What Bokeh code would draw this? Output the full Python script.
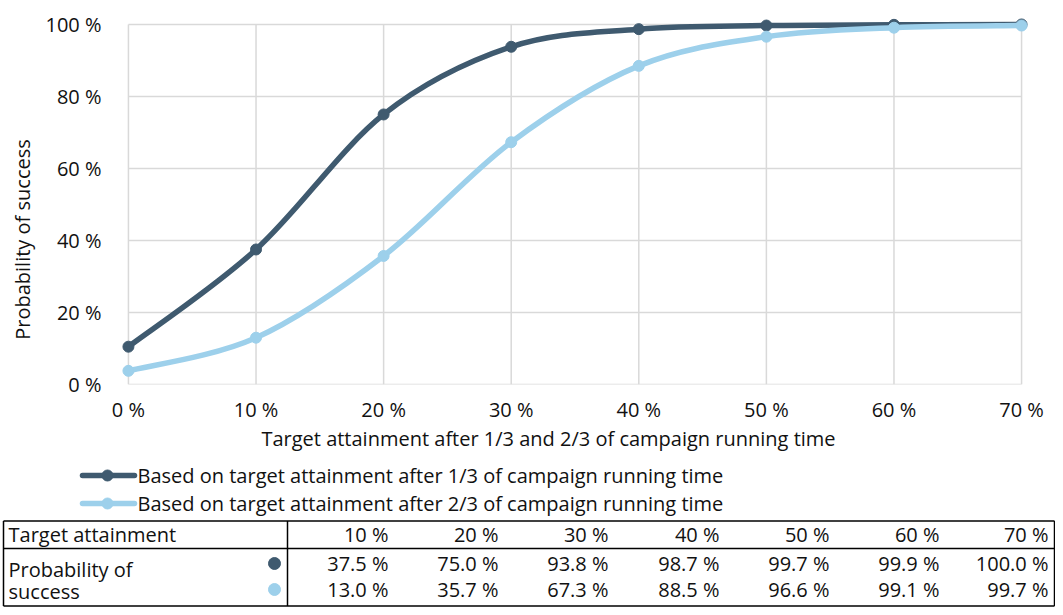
import math
import numpy as np
from bokeh.plotting import figure
from bokeh.models import Range1d, FixedTicker, ColumnDataSource
from bokeh.layouts import column, row
from bokeh.embed import file_html
from bokeh.resources import INLINE
from bokeh.core.properties import value

# ---------------- data ----------------
x_vals = [0, 10, 20, 30, 40, 50, 60, 70]
series_1 = [10.5, 37.5, 75.0, 93.8, 98.7, 99.7, 99.9, 100.0]
series_2 = [3.8, 13.0, 35.7, 67.3, 88.5, 96.6, 99.1, 99.7]
series_names = [
    "Based on target attainment after 1/3 of campaign running time",
    "Based on target attainment after 2/3 of campaign running time",
]
x_tick_labels = ["0 %", "10 %", "20 %", "30 %", "40 %", "50 %", "60 %", "70 %"]
y_ticks = [0, 20, 40, 60, 80, 100]
y_tick_labels = ["0 %", "20 %", "40 %", "60 %", "80 %", "100 %"]
x_title = "Target attainment after 1/3 and 2/3 of campaign running time"
y_title = "Probability of success"
table_header = "Target attainment"
table_row_label = ["Probability of", "success"]

# ---------------- style ----------------
FONT = "Open Sans"
FS = "20px"
COLORS = ["#3f5a6f", "#9dd0eb"]
GRID = "#d9d9d9"
TEXT = "#111111"

TOTAL_W = 1055
CHART_H = 425
TABLE_H = 182
YT_W = 42

PX = 901 / 70.0     # px per x unit
PY = 362 / 100.0    # px per y unit
PAD = 8


def no_align(fig):
    if "frame_align" in fig.properties():
        fig.frame_align = False


# ---------------- y title strip ----------------
yt = figure(width=YT_W, height=CHART_H, x_range=Range1d(0, YT_W), y_range=Range1d(CHART_H, 0),
            output_backend="svg", toolbar_location=None, min_border=0,
            x_axis_type=None, y_axis_type=None)
yt.outline_line_color = None
yt.grid.visible = False
yt.text(x=[22], y=[239], text=[y_title], angle=math.pi / 2, text_font=value(FONT),
        text_font_size=value(FS), text_color=TEXT, text_align="center", text_baseline="middle")
no_align(yt)

# ---------------- chart ----------------
p = figure(
    width=TOTAL_W - YT_W, height=CHART_H,
    x_range=Range1d(-PAD / PX, 70 + PAD / PX),
    y_range=Range1d(0, 100 + PAD / PY),
    output_backend="svg", toolbar_location=None,
    min_border_left=112 - YT_W, min_border_right=26, min_border_top=16,
    min_border_bottom=CHART_H - 16 - 370,
)
no_align(p)
p.outline_line_color = None
p.xgrid.visible = False
p.ygrid.visible = False

for ax in (p.xaxis[0], p.yaxis[0]):
    ax.axis_line_color = None
    ax.major_tick_line_color = None
    ax.minor_tick_line_color = None
    ax.major_label_text_font = FONT
    ax.major_label_text_font_size = FS
    ax.major_label_text_color = TEXT

p.xaxis.ticker = FixedTicker(ticks=x_vals)
p.xaxis.major_label_overrides = {v: l for v, l in zip(x_vals, x_tick_labels)}
p.xaxis.major_label_standoff = 5
p.yaxis.ticker = FixedTicker(ticks=y_ticks)
p.yaxis.major_label_overrides = {v: l for v, l in zip(y_ticks, y_tick_labels)}
p.yaxis.major_label_standoff = 13

xmin, xmax = x_vals[0], x_vals[-1]
ymin, ymax = y_ticks[0], y_ticks[-1]
p.segment(x0=x_vals, y0=[ymin] * len(x_vals), x1=x_vals, y1=[ymax] * len(x_vals),
          line_color=GRID, line_width=1.5)
p.segment(x0=[xmin] * len(y_ticks), y0=y_ticks, x1=[xmax] * len(y_ticks), y1=y_ticks,
          line_color=GRID, line_width=1.5)


def smooth_segments(xs, ys):
    P = np.column_stack([np.asarray(xs, float), np.asarray(ys, float)])
    n = len(P)
    out = {k: [] for k in ("x0", "y0", "x1", "y1", "cx0", "cy0", "cx1", "cy1")}
    for i in range(n - 1):
        prev = P[max(i - 1, 0)]
        nxt = P[min(i + 2, n - 1)]
        c0 = P[i] + (P[i + 1] - prev) / 6.0
        c1 = P[i + 1] - (nxt - P[i]) / 6.0
        out["x0"].append(P[i][0]); out["y0"].append(P[i][1])
        out["x1"].append(P[i + 1][0]); out["y1"].append(P[i + 1][1])
        out["cx0"].append(c0[0]); out["cy0"].append(c0[1])
        out["cx1"].append(c1[0]); out["cy1"].append(c1[1])
    return ColumnDataSource(out)


for ys, col in zip([series_1, series_2], COLORS):
    p.bezier(x0="x0", y0="y0", x1="x1", y1="y1", cx0="cx0", cy0="cy0", cx1="cx1", cy1="cy1",
             source=smooth_segments(x_vals, ys), line_color=col, line_width=5.5, line_cap="round")
    p.scatter(x=x_vals, y=ys, size=11, fill_color=col, line_color=col)

# ---------------- x title, legend + table ----------------
t = figure(width=TOTAL_W, height=TABLE_H, x_range=Range1d(0, TOTAL_W), y_range=Range1d(TABLE_H, 0),
           output_backend="svg", toolbar_location=None, min_border=0,
           x_axis_type=None, y_axis_type=None)
no_align(t)
t.outline_line_color = None
t.grid.visible = False

t.text(x=[548], y=[13], text=[x_title], text_font=value(FONT), text_font_size=value(FS),
       text_color=TEXT, text_align="center", text_baseline="middle")

leg_y = [50, 78]
for yy, col, name in zip(leg_y, COLORS, series_names):
    t.segment(x0=[82], y0=[yy], x1=[134], y1=[yy], line_color=col, line_width=5.5, line_cap="round")
    t.scatter(x=[107], y=[yy], size=11, fill_color=col, line_color=col)
    t.text(x=[137], y=[yy], text=[name], text_font=value(FONT), text_font_size=value(FS),
           text_color=TEXT, text_align="left", text_baseline="middle")

top, mid, bot = 95.5, 123, 180.5
left, divx, right = 3, 287, 1054
t.segment(x0=[left, left, left, left, divx, right], y0=[top, mid, bot, top, top, top],
          x1=[right, right, right, left, divx, right], y1=[top, mid, bot, bot, bot, bot],
          line_color="black", line_width=1.5)

col_right = [388, 498, 608, 719, 829, 939, 1048]
t.text(x=[8], y=[109], text=[table_header], text_font=value(FONT), text_font_size=value(FS),
       text_color=TEXT, text_align="left", text_baseline="middle")
t.text(x=col_right, y=[109] * len(col_right), text=x_tick_labels[1:], text_font=value(FONT),
       text_font_size=value(FS), text_color=TEXT, text_align="right", text_baseline="middle")
t.text(x=[8, 8], y=[144, 166], text=table_row_label, text_font=value(FONT), text_font_size=value(FS),
       text_color=TEXT, text_align="left", text_baseline="middle")

row_y = [138, 164]
for yy, ys, col in zip(row_y, [series_1, series_2], COLORS):
    t.scatter(x=[274], y=[yy], size=12, fill_color=col, line_color=col)
    t.text(x=col_right, y=[yy] * len(col_right), text=[f"{v:.1f} %" for v in ys[1:]],
           text_font=value(FONT), text_font_size=value(FS), text_color=TEXT,
           text_align="right", text_baseline="middle")

layout = column(row(yt, p, spacing=0), t, spacing=0)
open("out.html", "w").write(file_html(layout, INLINE))
